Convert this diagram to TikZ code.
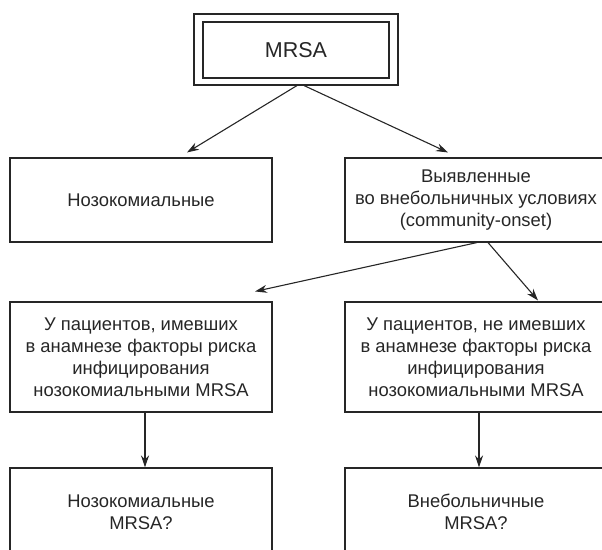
\documentclass[tikz,border=0pt]{standalone}
\usepackage{fontspec}
\setmainfont{Liberation Sans}
\usetikzlibrary{arrows.meta}
\tikzset{
  box/.style={draw=black!85, line width=1.1pt, minimum width=262pt, align=center, inner sep=0pt,
    font=\fontsize{18.4}{22}\selectfont, text=black!85},
  arr/.style={draw=black!85, line width=1.1pt, -{Stealth[length=12pt,width=8pt]}}
}
\begin{document}
\begin{tikzpicture}[x=1pt,y=-1pt]
\useasboundingbox (0,0) rectangle (602,549);
\clip (0,0) rectangle (602,549);
% top double box
\node[draw=black!85, line width=1.1pt, minimum width=204pt, minimum height=71pt, inner sep=0pt] (topo) at (296,49.5) {};
\node[box, minimum width=186pt, minimum height=56pt, font=\fontsize{21.5}{24}\selectfont] (top) at (296,50) {MRSA};
% row 2
\node[box, minimum height=84pt] (nozo) at (141,200) {Нозокомиальные};
\node[box, minimum height=84pt] (comm) at (476,200) {Выявленные\\во внебольничных условиях\\(community-onset)};
% row 3
\node[box, minimum height=110pt] (risk) at (141,357) {У пациентов, имевших\\в анамнезе факторы риска\\инфицирования\\нозокомиальными MRSA};
\node[box, minimum height=110pt] (norisk) at (476,357) {У пациентов, не имевших\\в анамнезе факторы риска\\инфицирования\\нозокомиальными MRSA};
% row 4
\node[box, minimum height=88pt] (hosp) at (141,512) {Нозокомиальные\\MRSA?};
\node[box, minimum height=88pt] (out) at (476,512) {Внебольничные\\MRSA?};
% connectors
\draw[arr] ([xshift=1pt]topo.south) -- ([xshift=46pt,yshift=5pt]nozo.north);
\draw[arr] ([xshift=8pt]topo.south) -- ([xshift=-28pt,yshift=5pt]comm.north);
\draw[arr] ([xshift=1pt]comm.south) -- ([xshift=114pt,yshift=10pt]risk.north);
\draw[arr] ([xshift=12pt]comm.south) -- ([xshift=62pt,yshift=1pt]norisk.north);
\draw[arr] ([xshift=4pt]risk.south) -- ([xshift=4pt]hosp.north);
\draw[arr] ([xshift=3pt]norisk.south) -- ([xshift=3pt]out.north);
\end{tikzpicture}
\end{document}
